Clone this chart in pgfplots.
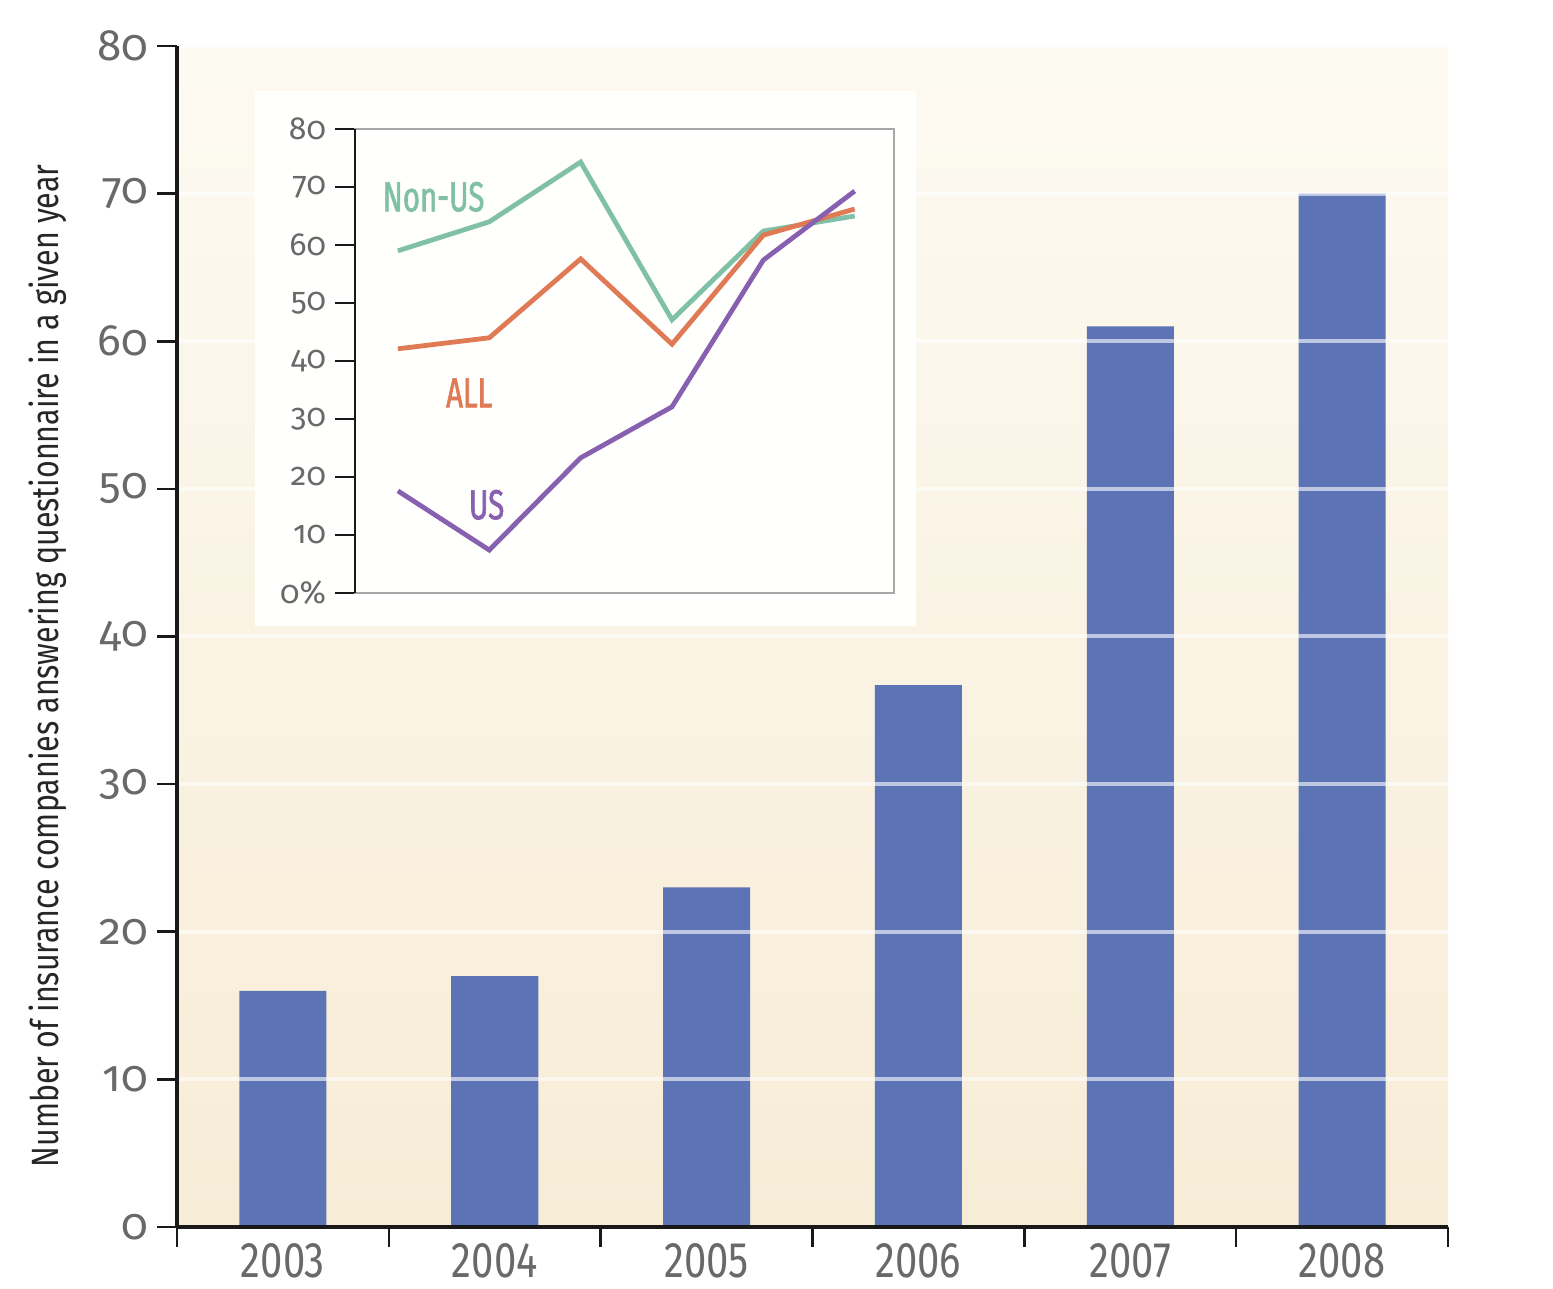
\documentclass[border=0pt]{standalone}
\usepackage{pgfplots}
\pgfplotsset{compat=1.18}
\usepackage{fontspec}
\setmainfont{Fira Sans}
\newfontfamily\oldfont[Numbers=OldStyle]{Fira Sans}
\newfontfamily\condfont[FakeStretch=0.8]{Fira Sans}
\newfontfamily\labfont[FakeStretch=0.7,FakeBold=1.5]{Fira Sans}
\definecolor{barblue}{RGB}{92,116,182}
\definecolor{bgtop}{RGB}{253,250,242}
\definecolor{bgbot}{RGB}{247,236,214}
\definecolor{ticklab}{RGB}{105,105,105}
\definecolor{nonus}{RGB}{128,192,166}
\definecolor{allc}{RGB}{224,122,85}
\definecolor{usc}{RGB}{136,96,176}
\begin{document}
\begin{tikzpicture}[x=0.5pt,y=0.5pt]
\useasboundingbox (0,0) rectangle (1553,1289);
\begin{axis}[
  at={(88.5pt,31pt)}, anchor=south west,
  scale only axis, width=635.5pt, height=590.5pt,
  xmin=-0.5, xmax=5.5, ymin=0, ymax=80,
  axis x line*=bottom, axis y line*=left,
  axis line style={line width=1.8pt, color=black!90},
  axis on top,
  axis background/.style={top color=bgtop, bottom color=bgbot},
  ytick={0,10,...,80},
  xtick={0,...,5},
  xticklabels={2003,2004,2005,2006,2007,2008},
  minor xtick={-0.5,0.5,...,5.5},
  tick align=outside,
  major tick length=10pt, minor tick length=10pt,
  x tick style={draw=none},
  minor x tick style={draw=black!90, line width=1.3pt},
  y tick style={draw=black!90, line width=1.3pt},
  ymajorgrids,
  grid style={draw=white, line width=2pt, opacity=0.6},
  /pgf/number format/assume math mode=true,
  yticklabel style={font=\oldfont\fontsize{22}{24}\selectfont, text=ticklab, xshift=-1pt},
  xticklabel style={font=\condfont\fontsize{25}{26}\selectfont, text=ticklab, inner sep=0pt, yshift=2pt},
  ylabel={Number of insurance companies answering questionnaire in a given year},
  ylabel style={at={(axis description cs:-0.1015,0.475)}, anchor=center, font=\condfont\fontsize{19}{21}\selectfont, text=black!85},
  clip=false,
]
\addplot[ybar, bar width=43.5pt, fill=barblue, draw=none] coordinates {
  (0,16) (1,17) (2,23) (3,36.7) (4,61) (5,70)
};
\end{axis}
\fill[white!97!bgtop] (255,663) rectangle (916,1198);
\begin{axis}[
  at={(177.5pt,348pt)}, anchor=south west,
  scale only axis, width=269.5pt, height=232pt,
  xmin=-0.47, xmax=5.43, ymin=0, ymax=80,
  axis line style={draw=black!35, line width=0.6pt},
  xtick=\empty,
  ytick={0,10,...,80},
  yticklabels={0\%,10,20,30,40,50,60,70,80},
  tick align=outside,
  major tick length=10pt,
  y tick style={draw=black!90, line width=1.3pt},
  ytick pos=left,
  /pgf/number format/assume math mode=true,
  yticklabel style={font=\oldfont\fontsize{16}{18}\selectfont, text=ticklab, xshift=-1pt},
  clip=false,
]
\draw[black!90, line width=1.3pt] (rel axis cs:0,0) -- (rel axis cs:0,1);
\addplot[nonus, line width=2.4pt] coordinates {
  (0,59.0) (1,64.0) (2,74.3) (3,47.1) (4,62.4) (5,65.0)
};
\addplot[allc, line width=2.4pt] coordinates {
  (0,42.1) (1,44.0) (2,57.6) (3,42.9) (4,61.7) (5,66.2)
};
\addplot[usc, line width=2.4pt] coordinates {
  (0,17.6) (1,7.4) (2,23.3) (3,32.1) (4,57.4) (5,69.3)
};
\node[font=\labfont\fontsize{21}{22}\selectfont, text=nonus] at (axis cs:0.39,68.3) {Non-US};
\node[font=\labfont\fontsize{21}{22}\selectfont, text=allc] at (axis cs:0.78,34.5) {ALL};
\node[font=\labfont\fontsize{21}{22}\selectfont, text=usc] at (axis cs:0.97,15.2) {US};
\end{axis}
\end{tikzpicture}
\end{document}
